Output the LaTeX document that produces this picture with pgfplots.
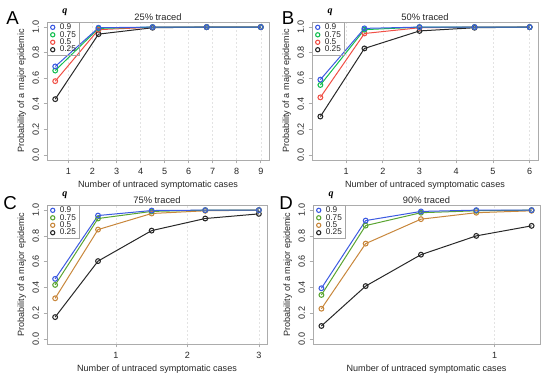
\documentclass[border=0pt]{standalone}
\usepackage{pgfplots}
\pgfplotsset{compat=1.18}
\usepackage{fontspec}
\setmainfont{Liberation Sans}
\newfontfamily\qfont{Liberation Serif}
\definecolor{cblue}{RGB}{60,90,225}
\definecolor{cgreen}{RGB}{20,190,80}
\definecolor{cred}{RGB}{240,80,70}
\definecolor{colive}{RGB}{90,165,50}
\definecolor{corange}{RGB}{200,135,60}
\definecolor{cblack}{RGB}{40,40,40}
\pgfplotsset{
  panel/.style={
    scale only axis, clip=false,
    ymin=-0.04, ymax=1.04,
    ytick={0,0.2,0.4,0.6,0.8,1},
    yticklabel style={rotate=90, anchor=south, /pgf/number format/.cd, fixed, fixed zerofill, precision=1},
    /pgf/number format/assume math mode=true,
    axis line style={gray!65, line width=0.6pt},
    tick style={gray!65, line width=0.5pt},
    tick align=outside, tick pos=left, major tick length=2.5pt,
    xmajorgrids, grid style={gray!22, dash pattern=on 1.5pt off 1.5pt, line width=0.4pt},
    ticklabel style={font=\fontsize{6.8}{7.5}\selectfont, text=black!85},
    label style={font=\fontsize{6.8}{7.5}\selectfont, text=black!85},
    xlabel={Number of untraced symptomatic cases},
    ylabel={Probability of a major epidemic},
    xlabel style={yshift=2pt},
    ylabel style={yshift=-2pt},
    title style={font=\fontsize{7}{8}\selectfont, yshift=-5.5pt, inner sep=0.5pt, text=black!85},
    every axis plot/.append style={line width=0.75pt, mark=o, mark size=1.8pt, mark options={solid, line width=0.8pt}},
    legend style={at={(0,1)}, anchor=north west, draw=gray!70, line width=0.4pt, fill=none,
      font=\fontsize{6.2}{6.5}\selectfont, inner xsep=2.5pt, inner ysep=1pt, row sep=0pt, column sep=3.5pt,
      nodes={inner sep=0.2pt, text height=4.3pt, text depth=0.9pt},
      cells={anchor=west}, text=black!85},
    legend cell align=left,
  }
}
\begin{document}
\begin{tikzpicture}
\path[use as bounding box] (0,0) rectangle (412.5pt,285.75pt);
% Panel A
\begin{axis}[panel, at={(35.25pt,165.75pt)}, anchor=south west, width=166.5pt, height=103.5pt,
  xmin=0.108, xmax=9.342, xtick={1,2,...,9}, title={25\% traced}]
\addplot[cblack, forget plot] coordinates {(0.45,0.436) (2.25,0.945) (4.5,0.995) (6.75,1.0) (9,1.0)};
\addplot[cred, forget plot] coordinates {(0.45,0.577) (2.25,0.98) (4.5,0.999) (6.75,1.0) (9,1.0)};
\addplot[cgreen, forget plot] coordinates {(0.45,0.66) (2.25,0.99) (4.5,1.0) (6.75,1.0) (9,1.0)};
\addplot[cblue, forget plot] coordinates {(0.45,0.692) (2.25,0.995) (4.5,1.0) (6.75,1.0) (9,1.0)};
\addlegendimage{only marks, mark=o, cblue, mark size=1.6pt, line width=0.5pt}\addlegendentry{0.9}
\addlegendimage{only marks, mark=o, cgreen, mark size=1.6pt, line width=0.5pt}\addlegendentry{0.75}
\addlegendimage{only marks, mark=o, cred, mark size=1.6pt, line width=0.5pt}\addlegendentry{0.5}
\addlegendimage{only marks, mark=o, cblack, mark size=1.6pt, line width=0.5pt}\addlegendentry{0.25}
\node[font=\qfont\bfseries\itshape\fontsize{7.5}{8}\selectfont, anchor=south] at ([xshift=13.5pt,yshift=1.5pt]rel axis cs:0,1) {q};
\end{axis}
% Panel B
\begin{axis}[panel, at={(234pt,165.75pt)}, anchor=south west, width=169.5pt, height=103.5pt,
  xmin=0.072, xmax=6.228, xtick={1,2,...,6}, title={50\% traced}]
\addplot[cblack, forget plot] coordinates {(0.3,0.30) (1.5,0.833) (3,0.97) (4.5,0.995) (6,1.0)};
\addplot[cred, forget plot] coordinates {(0.3,0.45) (1.5,0.95) (3,0.995) (4.5,1.0) (6,1.0)};
\addplot[cgreen, forget plot] coordinates {(0.3,0.547) (1.5,0.98) (3,1.0) (4.5,1.0) (6,1.0)};
\addplot[cblue, forget plot] coordinates {(0.3,0.589) (1.5,0.99) (3,1.0) (4.5,1.0) (6,1.0)};
\addlegendimage{only marks, mark=o, cblue, mark size=1.6pt, line width=0.5pt}\addlegendentry{0.9}
\addlegendimage{only marks, mark=o, cgreen, mark size=1.6pt, line width=0.5pt}\addlegendentry{0.75}
\addlegendimage{only marks, mark=o, cred, mark size=1.6pt, line width=0.5pt}\addlegendentry{0.5}
\addlegendimage{only marks, mark=o, cblack, mark size=1.6pt, line width=0.5pt}\addlegendentry{0.25}
\node[font=\qfont\bfseries\itshape\fontsize{7.5}{8}\selectfont, anchor=south] at ([xshift=13.5pt,yshift=1.5pt]rel axis cs:0,1) {q};
\end{axis}
% Panel C
\begin{axis}[panel, at={(35.25pt,27.75pt)}, anchor=south west, width=165pt, height=104.25pt,
  xmin=0.036, xmax=3.114, xtick={1,2,3}, title={75\% traced}]
\addplot[cblack, forget plot] coordinates {(0.15,0.169) (0.75,0.604) (1.5,0.841) (2.25,0.935) (3,0.971)};
\addplot[corange, forget plot] coordinates {(0.15,0.315) (0.75,0.849) (1.5,0.974) (2.25,0.995) (3,1.0)};
\addplot[colive, forget plot] coordinates {(0.15,0.419) (0.75,0.935) (1.5,0.99) (2.25,1.0) (3,1.0)};
\addplot[cblue, forget plot] coordinates {(0.15,0.466) (0.75,0.958) (1.5,0.997) (2.25,1.0) (3,1.0)};
\addlegendimage{only marks, mark=o, cblue, mark size=1.6pt, line width=0.5pt}\addlegendentry{0.9}
\addlegendimage{only marks, mark=o, colive, mark size=1.6pt, line width=0.5pt}\addlegendentry{0.75}
\addlegendimage{only marks, mark=o, corange, mark size=1.6pt, line width=0.5pt}\addlegendentry{0.5}
\addlegendimage{only marks, mark=o, cblack, mark size=1.6pt, line width=0.5pt}\addlegendentry{0.25}
\node[font=\qfont\bfseries\itshape\fontsize{7.5}{8}\selectfont, anchor=south] at ([xshift=13.5pt,yshift=1.5pt]rel axis cs:0,1) {q};
\end{axis}
% Panel D
\begin{axis}[panel, at={(234.75pt,27.75pt)}, anchor=south west, width=170.25pt, height=104.25pt,
  xmin=0.0144, xmax=1.2456, xtick={1}, title={90\% traced}]
\addplot[cblack, forget plot] coordinates {(0.06,0.10) (0.3,0.41) (0.6,0.654) (0.9,0.80) (1.2,0.878)};
\addplot[corange, forget plot] coordinates {(0.06,0.234) (0.3,0.74) (0.6,0.93) (0.9,0.98) (1.2,0.995)};
\addplot[colive, forget plot] coordinates {(0.06,0.341) (0.3,0.88) (0.6,0.98) (0.9,0.995) (1.2,1.0)};
\addplot[cblue, forget plot] coordinates {(0.06,0.393) (0.3,0.919) (0.6,0.99) (0.9,1.0) (1.2,1.0)};
\addlegendimage{only marks, mark=o, cblue, mark size=1.6pt, line width=0.5pt}\addlegendentry{0.9}
\addlegendimage{only marks, mark=o, colive, mark size=1.6pt, line width=0.5pt}\addlegendentry{0.75}
\addlegendimage{only marks, mark=o, corange, mark size=1.6pt, line width=0.5pt}\addlegendentry{0.5}
\addlegendimage{only marks, mark=o, cblack, mark size=1.6pt, line width=0.5pt}\addlegendentry{0.25}
\node[font=\qfont\bfseries\itshape\fontsize{7.5}{8}\selectfont, anchor=south] at ([xshift=13.5pt,yshift=1.5pt]rel axis cs:0,1) {q};
\end{axis}
% panel letters
\node[font=\fontsize{14}{14}\selectfont] at (9.4pt,271.9pt) {A};
\node[font=\fontsize{14}{14}\selectfont] at (216pt,272pt) {B};
\node[font=\fontsize{14}{14}\selectfont] at (7.5pt,133.5pt) {C};
\node[font=\fontsize{14}{14}\selectfont] at (214.5pt,133.5pt) {D};
\end{tikzpicture}
\end{document}
